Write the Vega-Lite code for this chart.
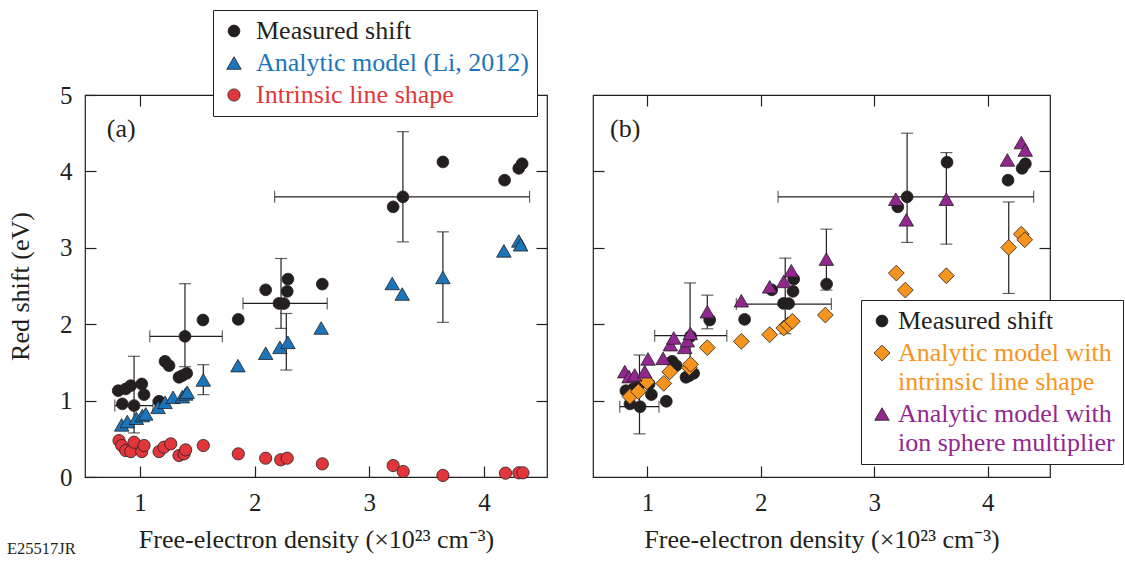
{
  "$schema": "https://vega.github.io/schema/vega-lite/v6.json",
  "background": "white",
  "padding": {"left": 6, "top": 8, "right": 0, "bottom": 0},
  "title": {"text": "E25517JR", "orient": "bottom", "anchor": "start", "frame": "bounds", "font": "Liberation Serif", "fontSize": 16.5, "fontWeight": "normal", "color": "#231f20", "offset": -12},
  "datasets": {
    "pts": [
      {"p":"a","s":"Measured shift","x":0.81,"y":1.13},{"p":"a","s":"Measured shift","x":0.846,"y":0.957},{"p":"a","s":"Measured shift","x":0.875,"y":1.153},{"p":"a","s":"Measured shift","x":0.919,"y":1.196},{"p":"a","s":"Measured shift","x":0.948,"y":0.935},{"p":"a","s":"Measured shift","x":1.015,"y":1.218},{"p":"a","s":"Measured shift","x":1.035,"y":1.078},{"p":"a","s":"Measured shift","x":1.166,"y":0.991},{"p":"a","s":"Measured shift","x":1.218,"y":1.514},{"p":"a","s":"Measured shift","x":1.253,"y":1.458},{"p":"a","s":"Measured shift","x":1.34,"y":1.305},{"p":"a","s":"Measured shift","x":1.369,"y":1.327},{"p":"a","s":"Measured shift","x":1.407,"y":1.357},{"p":"a","s":"Measured shift","x":1.392,"y":1.841},{"p":"a","s":"Measured shift","x":1.549,"y":2.055},{"p":"a","s":"Measured shift","x":1.857,"y":2.063},{"p":"a","s":"Measured shift","x":2.096,"y":2.45},{"p":"a","s":"Measured shift","x":2.212,"y":2.272},{"p":"a","s":"Measured shift","x":2.255,"y":2.27},{"p":"a","s":"Measured shift","x":2.284,"y":2.43},{"p":"a","s":"Measured shift","x":2.29,"y":2.59},{"p":"a","s":"Measured shift","x":2.59,"y":2.525},{"p":"a","s":"Measured shift","x":3.208,"y":3.536},{"p":"a","s":"Measured shift","x":3.293,"y":3.667},{"p":"a","s":"Measured shift","x":3.642,"y":4.124},{"p":"a","s":"Measured shift","x":4.18,"y":3.885},{"p":"a","s":"Measured shift","x":4.304,"y":4.04},{"p":"a","s":"Measured shift","x":4.333,"y":4.1},
      {"p":"a","s":"Analytic model (Li, 2012)","x":0.84,"y":0.682},{"p":"a","s":"Analytic model (Li, 2012)","x":0.889,"y":0.725},{"p":"a","s":"Analytic model (Li, 2012)","x":0.968,"y":0.769},{"p":"a","s":"Analytic model (Li, 2012)","x":1.02,"y":0.804},{"p":"a","s":"Analytic model (Li, 2012)","x":1.05,"y":0.826},{"p":"a","s":"Analytic model (Li, 2012)","x":1.157,"y":0.912},{"p":"a","s":"Analytic model (Li, 2012)","x":1.218,"y":0.978},{"p":"a","s":"Analytic model (Li, 2012)","x":1.288,"y":1.043},{"p":"a","s":"Analytic model (Li, 2012)","x":1.369,"y":1.052},{"p":"a","s":"Analytic model (Li, 2012)","x":1.398,"y":1.087},{"p":"a","s":"Analytic model (Li, 2012)","x":1.412,"y":1.109},{"p":"a","s":"Analytic model (Li, 2012)","x":1.552,"y":1.27},{"p":"a","s":"Analytic model (Li, 2012)","x":1.854,"y":1.458},{"p":"a","s":"Analytic model (Li, 2012)","x":2.096,"y":1.62},{"p":"a","s":"Analytic model (Li, 2012)","x":2.22,"y":1.697},{"p":"a","s":"Analytic model (Li, 2012)","x":2.29,"y":1.762},{"p":"a","s":"Analytic model (Li, 2012)","x":2.58,"y":1.95},{"p":"a","s":"Analytic model (Li, 2012)","x":3.2,"y":2.533},{"p":"a","s":"Analytic model (Li, 2012)","x":3.287,"y":2.395},{"p":"a","s":"Analytic model (Li, 2012)","x":3.642,"y":2.612},{"p":"a","s":"Analytic model (Li, 2012)","x":4.174,"y":2.96},{"p":"a","s":"Analytic model (Li, 2012)","x":4.304,"y":3.09},{"p":"a","s":"Analytic model (Li, 2012)","x":4.32,"y":3.04},
      {"p":"a","s":"Intrinsic line shape","x":0.817,"y":0.477},{"p":"a","s":"Intrinsic line shape","x":0.84,"y":0.412},{"p":"a","s":"Intrinsic line shape","x":0.875,"y":0.346},{"p":"a","s":"Intrinsic line shape","x":0.919,"y":0.333},{"p":"a","s":"Intrinsic line shape","x":0.948,"y":0.455},{"p":"a","s":"Intrinsic line shape","x":1.015,"y":0.333},{"p":"a","s":"Intrinsic line shape","x":1.035,"y":0.412},{"p":"a","s":"Intrinsic line shape","x":1.166,"y":0.333},{"p":"a","s":"Intrinsic line shape","x":1.209,"y":0.39},{"p":"a","s":"Intrinsic line shape","x":1.268,"y":0.434},{"p":"a","s":"Intrinsic line shape","x":1.34,"y":0.281},{"p":"a","s":"Intrinsic line shape","x":1.384,"y":0.303},{"p":"a","s":"Intrinsic line shape","x":1.398,"y":0.355},{"p":"a","s":"Intrinsic line shape","x":1.552,"y":0.412},{"p":"a","s":"Intrinsic line shape","x":1.857,"y":0.303},{"p":"a","s":"Intrinsic line shape","x":2.096,"y":0.246},{"p":"a","s":"Intrinsic line shape","x":2.227,"y":0.225},{"p":"a","s":"Intrinsic line shape","x":2.284,"y":0.246},{"p":"a","s":"Intrinsic line shape","x":2.59,"y":0.172},{"p":"a","s":"Intrinsic line shape","x":3.208,"y":0.15},{"p":"a","s":"Intrinsic line shape","x":3.296,"y":0.072},{"p":"a","s":"Intrinsic line shape","x":3.642,"y":0.02},{"p":"a","s":"Intrinsic line shape","x":4.188,"y":0.05},{"p":"a","s":"Intrinsic line shape","x":4.304,"y":0.055},{"p":"a","s":"Intrinsic line shape","x":4.34,"y":0.055},
      {"p":"b","s":"Measured shift","x":0.81,"y":1.13},{"p":"b","s":"Measured shift","x":0.846,"y":0.957},{"p":"b","s":"Measured shift","x":0.875,"y":1.153},{"p":"b","s":"Measured shift","x":0.919,"y":1.196},{"p":"b","s":"Measured shift","x":0.935,"y":0.92},{"p":"b","s":"Measured shift","x":1.015,"y":1.218},{"p":"b","s":"Measured shift","x":1.035,"y":1.078},{"p":"b","s":"Measured shift","x":1.166,"y":0.991},{"p":"b","s":"Measured shift","x":1.218,"y":1.514},{"p":"b","s":"Measured shift","x":1.253,"y":1.458},{"p":"b","s":"Measured shift","x":1.34,"y":1.305},{"p":"b","s":"Measured shift","x":1.369,"y":1.327},{"p":"b","s":"Measured shift","x":1.407,"y":1.357},{"p":"b","s":"Measured shift","x":1.38,"y":1.841},{"p":"b","s":"Measured shift","x":1.549,"y":2.055},{"p":"b","s":"Measured shift","x":1.857,"y":2.063},{"p":"b","s":"Measured shift","x":2.096,"y":2.45},{"p":"b","s":"Measured shift","x":2.2,"y":2.272},{"p":"b","s":"Measured shift","x":2.245,"y":2.27},{"p":"b","s":"Measured shift","x":2.284,"y":2.43},{"p":"b","s":"Measured shift","x":2.29,"y":2.59},{"p":"b","s":"Measured shift","x":2.58,"y":2.525},{"p":"b","s":"Measured shift","x":3.208,"y":3.536},{"p":"b","s":"Measured shift","x":3.29,"y":3.667},{"p":"b","s":"Measured shift","x":3.642,"y":4.12},{"p":"b","s":"Measured shift","x":4.18,"y":3.885},{"p":"b","s":"Measured shift","x":4.304,"y":4.04},{"p":"b","s":"Measured shift","x":4.333,"y":4.1},
      {"p":"b","s":"Analytic model with intrinsic line shape","x":0.846,"y":1.054},{"p":"b","s":"Analytic model with intrinsic line shape","x":0.92,"y":1.118},{"p":"b","s":"Analytic model with intrinsic line shape","x":0.996,"y":1.245},{"p":"b","s":"Analytic model with intrinsic line shape","x":1.144,"y":1.225},{"p":"b","s":"Analytic model with intrinsic line shape","x":1.197,"y":1.376},{"p":"b","s":"Analytic model with intrinsic line shape","x":1.37,"y":1.43},{"p":"b","s":"Analytic model with intrinsic line shape","x":1.38,"y":1.475},{"p":"b","s":"Analytic model with intrinsic line shape","x":1.528,"y":1.693},{"p":"b","s":"Analytic model with intrinsic line shape","x":1.828,"y":1.775},{"p":"b","s":"Analytic model with intrinsic line shape","x":2.078,"y":1.863},{"p":"b","s":"Analytic model with intrinsic line shape","x":2.202,"y":1.95},{"p":"b","s":"Analytic model with intrinsic line shape","x":2.24,"y":1.993},{"p":"b","s":"Analytic model with intrinsic line shape","x":2.278,"y":2.037},{"p":"b","s":"Analytic model with intrinsic line shape","x":2.569,"y":2.12},{"p":"b","s":"Analytic model with intrinsic line shape","x":3.195,"y":2.669},{"p":"b","s":"Analytic model with intrinsic line shape","x":3.274,"y":2.447},{"p":"b","s":"Analytic model with intrinsic line shape","x":3.636,"y":2.634},{"p":"b","s":"Analytic model with intrinsic line shape","x":4.186,"y":3.004},{"p":"b","s":"Analytic model with intrinsic line shape","x":4.297,"y":3.179},{"p":"b","s":"Analytic model with intrinsic line shape","x":4.327,"y":3.105},
      {"p":"b","s":"Analytic model with ion sphere multiplier","x":0.8,"y":1.379},{"p":"b","s":"Analytic model with ion sphere multiplier","x":0.838,"y":1.314},{"p":"b","s":"Analytic model with ion sphere multiplier","x":0.888,"y":1.336},{"p":"b","s":"Analytic model with ion sphere multiplier","x":0.976,"y":1.379},{"p":"b","s":"Analytic model with ion sphere multiplier","x":1.005,"y":1.545},{"p":"b","s":"Analytic model with ion sphere multiplier","x":1.138,"y":1.553},{"p":"b","s":"Analytic model with ion sphere multiplier","x":1.202,"y":1.732},{"p":"b","s":"Analytic model with ion sphere multiplier","x":1.232,"y":1.82},{"p":"b","s":"Analytic model with ion sphere multiplier","x":1.329,"y":1.697},{"p":"b","s":"Analytic model with ion sphere multiplier","x":1.352,"y":1.784},{"p":"b","s":"Analytic model with ion sphere multiplier","x":1.378,"y":1.88},{"p":"b","s":"Analytic model with ion sphere multiplier","x":1.528,"y":2.163},{"p":"b","s":"Analytic model with ion sphere multiplier","x":1.828,"y":2.307},{"p":"b","s":"Analytic model with ion sphere multiplier","x":2.078,"y":2.49},{"p":"b","s":"Analytic model with ion sphere multiplier","x":2.202,"y":2.56},{"p":"b","s":"Analytic model with ion sphere multiplier","x":2.269,"y":2.699},{"p":"b","s":"Analytic model with ion sphere multiplier","x":2.578,"y":2.852},{"p":"b","s":"Analytic model with ion sphere multiplier","x":3.19,"y":3.636},{"p":"b","s":"Analytic model with ion sphere multiplier","x":3.283,"y":3.366},{"p":"b","s":"Analytic model with ion sphere multiplier","x":3.636,"y":3.636},{"p":"b","s":"Analytic model with ion sphere multiplier","x":4.174,"y":4.15},{"p":"b","s":"Analytic model with ion sphere multiplier","x":4.297,"y":4.377},{"p":"b","s":"Analytic model with ion sphere multiplier","x":4.332,"y":4.28}
    ],
    "vbars": [
      {"p":"a","x":0.948,"lo":0.577,"hi":1.58},{"p":"a","x":1.392,"lo":1.444,"hi":2.53},{"p":"a","x":2.23,"lo":1.945,"hi":2.86},{"p":"a","x":3.293,"lo":3.078,"hi":4.52},
      {"p":"a","x":1.552,"lo":1.078,"hi":1.47},{"p":"a","x":2.276,"lo":1.4,"hi":2.14},{"p":"a","x":3.642,"lo":2.024,"hi":3.209},
      {"p":"b","x":0.93,"lo":0.565,"hi":1.597},{"p":"b","x":1.376,"lo":1.444,"hi":2.54},{"p":"b","x":2.215,"lo":1.876,"hi":2.865},{"p":"b","x":3.29,"lo":3.07,"hi":4.5},
      {"p":"b","x":1.528,"lo":1.94,"hi":2.38},{"p":"b","x":2.578,"lo":2.447,"hi":3.244},{"p":"b","x":3.636,"lo":3.048,"hi":4.246},{"p":"b","x":4.186,"lo":2.403,"hi":3.6}
    ],
    "hbars": [
      {"p":"a","y":0.935,"lo":0.78,"hi":1.113},{"p":"a","y":1.841,"lo":1.085,"hi":1.718},{"p":"a","y":2.272,"lo":1.898,"hi":2.633},{"p":"a","y":3.667,"lo":2.174,"hi":4.398},
      {"p":"b","y":0.92,"lo":0.756,"hi":1.102},{"p":"b","y":1.85,"lo":1.064,"hi":1.7},{"p":"b","y":2.264,"lo":1.784,"hi":2.622},{"p":"b","y":3.667,"lo":2.152,"hi":4.406}
    ],
    "tags": [
      {"p":"a","t":"(a)","x":0.71,"y":4.55},
      {"p":"b","t":"(b)","x":0.67,"y":4.55}
    ]
  },
  "hconcat": [
    {
      "width": 462,
      "height": 382,
      "layer": [
        {
          "data": {"name": "vbars"},
          "transform": [{"filter": "datum.p == 'a'"}],
          "mark": {"type": "errorbar", "ticks": {"size": 12}, "thickness": 1.2, "color": "#231f20"},
          "encoding": {
            "x": {"field": "x", "type": "quantitative", "axis": null, "scale": {"domain": [0.52, 4.55], "nice": false, "zero": false}},
            "y": {"field": "lo", "type": "quantitative", "axis": null, "scale": {"domain": [0, 5], "nice": false}},
            "y2": {"field": "hi"}
          }
        },
        {
          "data": {"name": "hbars"},
          "transform": [{"filter": "datum.p == 'a'"}],
          "mark": {"type": "errorbar", "ticks": {"size": 12}, "thickness": 1.2, "color": "#231f20"},
          "encoding": {
            "y": {"field": "y", "type": "quantitative", "axis": null, "scale": {"domain": [0, 5], "nice": false}},
            "x": {"field": "lo", "type": "quantitative", "axis": null, "scale": {"domain": [0.52, 4.55], "nice": false, "zero": false}},
            "x2": {"field": "hi"}
          }
        },
        {
          "data": {"name": "tags"},
          "transform": [{"filter": "datum.p == 'a'"}],
          "mark": {"type": "text", "align": "left", "baseline": "middle", "font": "Liberation Serif", "fontSize": 26, "color": "#231f20"},
          "encoding": {
            "x": {"field": "x", "type": "quantitative", "axis": null, "scale": {"domain": [0.52, 4.55], "nice": false, "zero": false}},
            "y": {"field": "y", "type": "quantitative", "axis": null, "scale": {"domain": [0, 5], "nice": false}},
            "text": {"field": "t"}
          }
        },
        {
          "data": {"name": "pts"},
          "transform": [{"filter": "datum.p == 'a'"}],
          "mark": {"type": "point", "filled": true, "opacity": 1, "stroke": "#231f20", "strokeWidth": 0.8},
          "encoding": {
            "x": {"field": "x", "type": "quantitative", "scale": {"domain": [0.52, 4.55], "nice": false, "zero": false}, "axis": {"values": [1, 2, 3, 4], "title": "Free-electron density (×10²³ cm⁻³)"}},
            "y": {"field": "y", "type": "quantitative", "scale": {"domain": [0, 5], "nice": false}, "axis": {"values": [0, 1, 2, 3, 4, 5], "title": "Red shift (eV)"}},
            "fill": {"field": "s", "type": "nominal", "scale": {"domain": ["Measured shift", "Analytic model (Li, 2012)", "Intrinsic line shape"], "range": ["#231f20", "#1b75bb", "#e2363b"]},
              "legend": {"orient": "none", "legendX": 128, "legendY": -85, "title": null, "labelOffset": 9,
                "encode": {"labels": {"update": {"fill": {"signal": "datum.value === 'Measured shift' ? '#231f20' : datum.value === 'Analytic model (Li, 2012)' ? '#1b75bb' : '#e2363b'"}}}}}},
            "shape": {"field": "s", "type": "nominal", "scale": {"domain": ["Measured shift", "Analytic model (Li, 2012)", "Intrinsic line shape"], "range": ["circle", "triangle-up", "circle"]},
              "legend": {"orient": "none", "legendX": 128, "legendY": -85, "title": null, "labelOffset": 9}},
            "size": {"field": "s", "type": "nominal", "scale": {"type": "ordinal", "domain": ["Measured shift", "Analytic model (Li, 2012)", "Intrinsic line shape"], "range": [140, 210, 150]},
              "legend": {"orient": "none", "legendX": 128, "legendY": -85, "title": null, "labelOffset": 9}}
          }
        },
        {
          "data": {"name": "pts"},
          "transform": [{"filter": "datum.p == 'a'"}],
          "mark": {"type": "point", "opacity": 0},
          "encoding": {
            "x": {"field": "x", "type": "quantitative", "scale": {"domain": [0.52, 4.55], "nice": false, "zero": false}, "axis": {"orient": "top", "values": [1, 2, 3, 4], "labels": false, "title": null}},
            "y": {"field": "y", "type": "quantitative", "scale": {"domain": [0, 5], "nice": false}, "axis": {"orient": "right", "values": [1, 2, 3, 4], "labels": false, "title": null}}
          }
        }
      ],
      "resolve": {"axis": {"x": "independent", "y": "independent"}}
    },
    {
      "width": 457,
      "height": 382,
      "layer": [
        {
          "data": {"name": "vbars"},
          "transform": [{"filter": "datum.p == 'b'"}],
          "mark": {"type": "errorbar", "ticks": {"size": 12}, "thickness": 1.2, "color": "#231f20"},
          "encoding": {
            "x": {"field": "x", "type": "quantitative", "axis": null, "scale": {"domain": [0.52, 4.55], "nice": false, "zero": false}},
            "y": {"field": "lo", "type": "quantitative", "axis": null, "scale": {"domain": [0, 5], "nice": false}},
            "y2": {"field": "hi"}
          }
        },
        {
          "data": {"name": "hbars"},
          "transform": [{"filter": "datum.p == 'b'"}],
          "mark": {"type": "errorbar", "ticks": {"size": 12}, "thickness": 1.2, "color": "#231f20"},
          "encoding": {
            "y": {"field": "y", "type": "quantitative", "axis": null, "scale": {"domain": [0, 5], "nice": false}},
            "x": {"field": "lo", "type": "quantitative", "axis": null, "scale": {"domain": [0.52, 4.55], "nice": false, "zero": false}},
            "x2": {"field": "hi"}
          }
        },
        {
          "data": {"name": "tags"},
          "transform": [{"filter": "datum.p == 'b'"}],
          "mark": {"type": "text", "align": "left", "baseline": "middle", "font": "Liberation Serif", "fontSize": 26, "color": "#231f20"},
          "encoding": {
            "x": {"field": "x", "type": "quantitative", "axis": null, "scale": {"domain": [0.52, 4.55], "nice": false, "zero": false}},
            "y": {"field": "y", "type": "quantitative", "axis": null, "scale": {"domain": [0, 5], "nice": false}},
            "text": {"field": "t"}
          }
        },
        {
          "data": {"name": "pts"},
          "transform": [{"filter": "datum.p == 'b'"}],
          "mark": {"type": "point", "filled": true, "opacity": 1, "stroke": "#231f20", "strokeWidth": 0.8},
          "encoding": {
            "x": {"field": "x", "type": "quantitative", "scale": {"domain": [0.52, 4.55], "nice": false, "zero": false}, "axis": {"values": [1, 2, 3, 4], "title": "Free-electron density (×10²³ cm⁻³)"}},
            "y": {"field": "y", "type": "quantitative", "scale": {"domain": [0, 5], "nice": false}, "axis": {"values": [1, 2, 3, 4], "labels": false, "title": null}},
            "fill": {"field": "s", "type": "nominal", "scale": {"domain": ["Measured shift", "Analytic model with intrinsic line shape", "Analytic model with ion sphere multiplier"], "range": ["#231f20", "#f7941d", "#92278f"]},
              "legend": {"orient": "none", "legendX": 268, "legendY": 205, "title": null, "labelOffset": 3,
                "labelExpr": "datum.label == 'Analytic model with intrinsic line shape' ? ['Analytic model with', 'intrinsic line shape'] : datum.label == 'Analytic model with ion sphere multiplier' ? ['Analytic model with', 'ion sphere multiplier'] : datum.label",
                "encode": {"labels": {"update": {
                  "fill": {"signal": "datum.value === 'Measured shift' ? '#231f20' : datum.value === 'Analytic model with intrinsic line shape' ? '#f7941d' : '#92278f'"},
                  "lineHeight": {"value": 29}
                }}}}},
            "shape": {"field": "s", "type": "nominal", "scale": {"domain": ["Measured shift", "Analytic model with intrinsic line shape", "Analytic model with ion sphere multiplier"], "range": ["circle", "diamond", "triangle-up"]},
              "legend": {"orient": "none", "legendX": 268, "legendY": 205, "title": null, "labelOffset": 3}},
            "size": {"field": "s", "type": "nominal", "scale": {"type": "ordinal", "domain": ["Measured shift", "Analytic model with intrinsic line shape", "Analytic model with ion sphere multiplier"], "range": [140, 250, 210]},
              "legend": {"orient": "none", "legendX": 268, "legendY": 205, "title": null, "labelOffset": 3}}
          }
        },
        {
          "data": {"name": "pts"},
          "transform": [{"filter": "datum.p == 'b'"}],
          "mark": {"type": "point", "opacity": 0},
          "encoding": {
            "x": {"field": "x", "type": "quantitative", "scale": {"domain": [0.52, 4.55], "nice": false, "zero": false}, "axis": {"orient": "top", "values": [1, 2, 3, 4], "labels": false, "title": null}},
            "y": {"field": "y", "type": "quantitative", "scale": {"domain": [0, 5], "nice": false}, "axis": {"orient": "right", "values": [1, 2, 3, 4], "labels": false, "title": null}}
          }
        }
      ],
      "resolve": {"axis": {"x": "independent", "y": "independent"}}
    }
  ],
  "spacing": 42,
  "resolve": {
    "scale": {"x": "independent", "y": "independent", "fill": "independent", "shape": "independent", "size": "independent"},
    "legend": {"fill": "independent", "shape": "independent", "size": "independent"}
  },
  "config": {
    "font": "Liberation Serif",
    "view": {"stroke": "#231f20", "strokeWidth": 1.2},
    "axis": {
      "grid": false, "domain": false,
      "tickColor": "#231f20", "tickSize": -11, "tickWidth": 1.2,
      "labelFont": "Liberation Serif", "labelFontSize": 25, "labelColor": "#231f20", "labelPadding": 24,
      "titleFont": "Liberation Serif", "titleFontSize": 26, "titleFontWeight": "normal", "titleColor": "#231f20"
    },
    "axisX": {"titlePadding": 11},
    "axisY": {"titlePadding": 26},
    "legend": {
      "labelFont": "Liberation Serif", "labelFontSize": 26, "labelLimit": 400,
      "symbolStrokeColor": "#231f20", "symbolStrokeWidth": 0.8, "symbolOpacity": 1,
      "strokeColor": "#231f20", "fillColor": "white", "padding": 8, "rowPadding": 6
    }
  }
}
